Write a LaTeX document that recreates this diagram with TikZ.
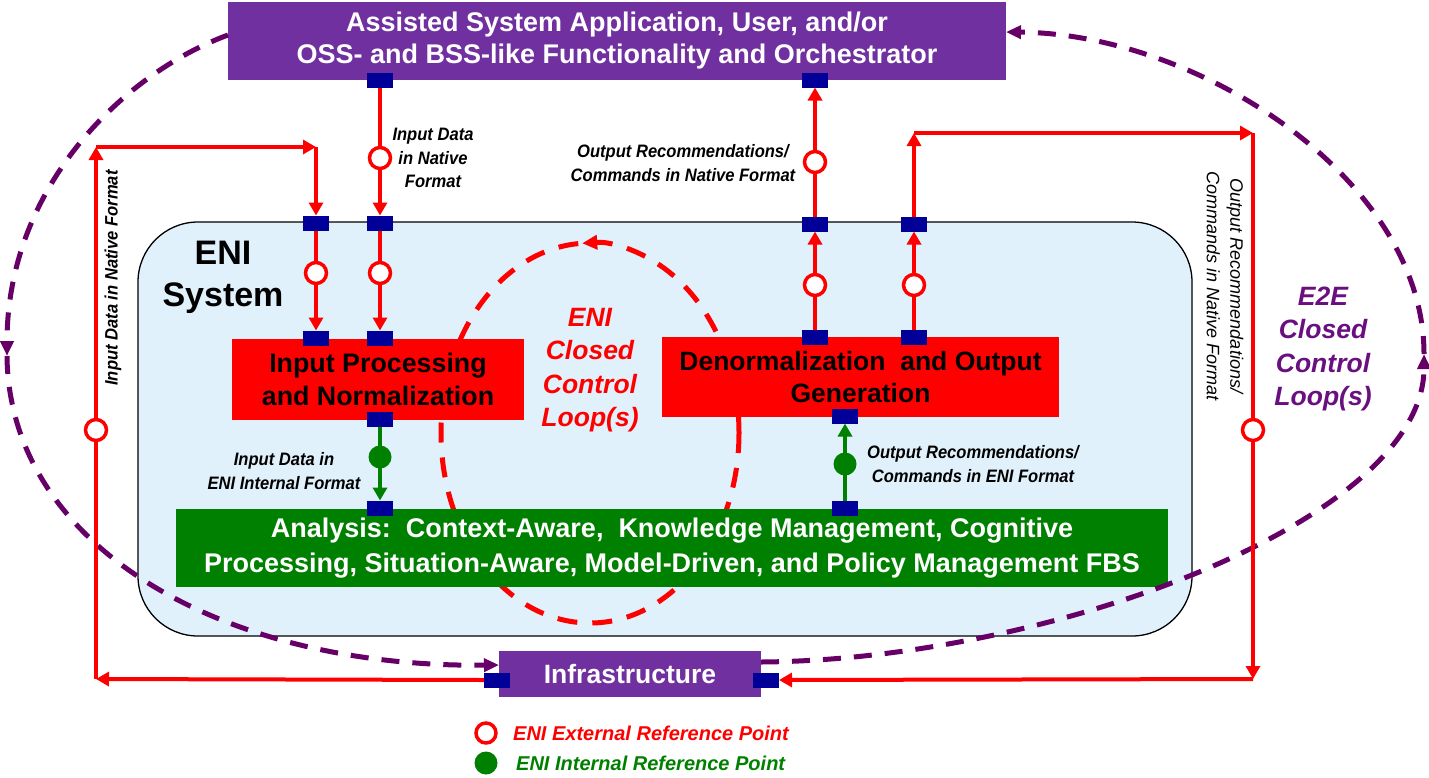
\documentclass[tikz,border=0pt]{standalone}
\usepackage{fontspec}
\setmainfont{Liberation Sans}
\newfontfamily\lblfont[FakeStretch=0.92]{Liberation Sans}
\usetikzlibrary{arrows.meta}
\definecolor{eniPurple}{HTML}{7030A0}
\definecolor{loopPurple}{HTML}{660066}
\definecolor{e2eText}{HTML}{6A0F80}
\definecolor{portBlue}{HTML}{000099}
\definecolor{eniRed}{HTML}{FF0000}
\definecolor{eniGreen}{HTML}{008000}
\definecolor{eniBlue}{HTML}{E1F1FB}
\tikzset{
  port/.style={fill=portBlue, minimum width=26pt, minimum height=15pt, inner sep=0pt, outer sep=0pt},
  extpt/.style={circle, draw=eniRed, line width=3.5pt, fill=white, minimum size=21pt, inner sep=0pt},
  intpt/.style={circle, fill=eniGreen, minimum size=23pt, inner sep=0pt},
  redflow/.style={draw=eniRed, line width=4pt, -{Triangle[length=13pt,width=14pt]}},
  greenflow/.style={draw=eniGreen, line width=4pt, -{Triangle[length=13pt,width=14pt]}},
  e2edash/.style={draw=loopPurple, line width=5pt, dash pattern=on 18pt off 13pt, -{Triangle[length=15pt,width=13pt]}},
  enidash/.style={draw=eniRed, line width=5pt, dash pattern=on 20pt off 15pt},
  bigbox/.style={inner sep=0pt, outer sep=0pt, align=center},
  lbl/.style={font=\lblfont\fontsize{18}{23.5}\selectfont\bfseries\itshape, align=center, inner sep=0pt},
}
\begin{document}
\begin{tikzpicture}[x=1pt,y=-1pt]
\useasboundingbox (0,0) rectangle (1429,777);

% ENI system container
\node[draw=black, line width=1.3pt, fill=eniBlue, rounded corners=60pt, minimum width=1054pt, minimum height=414pt, inner sep=0pt] (eni) at (665,429) {};

% ENI closed control loop (dashed ellipse)
\draw[enidash, -{Triangle[length=15pt,width=14pt]}] (739,433) arc[start angle=0, end angle=93, x radius=149pt, y radius=190pt];
\draw[enidash] (739,433) arc[start angle=0, end angle=-267, x radius=149pt, y radius=190pt];

% boxes
\node[bigbox, fill=eniPurple, text=white, minimum width=778pt, minimum height=78pt, font=\fontsize{27}{32}\selectfont\bfseries] (top) at (617,41) {Assisted System Application, User, and/or\\OSS- and BSS-like Functionality and Orchestrator};
\node[bigbox, fill=eniRed, text=black, minimum width=292pt, minimum height=81pt, font=\fontsize{26.8}{33}\selectfont\bfseries] (inproc) at (378,379.5) {Input Processing\\and Normalization};
\node[bigbox, fill=eniRed, text=black, minimum width=397pt, minimum height=80pt, font=\fontsize{26.5}{32}\selectfont\bfseries] (denorm) at (860.5,377) {Denormalization\ \ and Output\\Generation};
\node[bigbox, fill=eniGreen, text=white, minimum width=992pt, minimum height=78pt, font=\fontsize{27}{35}\selectfont\bfseries] (analysis) at (672,548) {Analysis:\ \ Context-Aware,\ \ Knowledge Management, Cognitive\\Processing, Situation-Aware, Model-Driven, and Policy Management FBS};
\node[bigbox, fill=eniPurple, text=white, minimum width=262pt, minimum height=46pt, font=\fontsize{26.5}{30}\selectfont\bfseries] (infra) at (630,674) {Infrastructure};

% E2E closed control loop (dashed purple arcs)
\coordinate (e2eL) at (7,356);
\coordinate (e2eR) at (1424,354);
\draw[e2edash] ([yshift=6pt]top.west) .. controls (120,75) and (7,190) .. (e2eL);
\draw[e2edash] (e2eL) .. controls (9,545) and (220,668) .. ([yshift=9pt]infra.west);
\draw[e2edash] ([yshift=12pt]infra.east) .. controls (1050,660) and (1424,520) .. (e2eR);
\draw[e2edash] (e2eR) .. controls (1424,180) and (1200,34) .. ([yshift=9pt]top.east);

% ports
\node[port] (pTopL) at (380,80) {};
\node[port] (pTopR) at (815,80) {};
\node[port] (pB1) at (316,223) {};
\node[port] (pB2) at (380,223) {};
\node[port] (pB3) at (815,224) {};
\node[port] (pB4) at (914,224) {};
\node[port] (pI1) at (316,338) {};
\node[port] (pI2) at (380,338) {};
\node[port] (pI3) at (380,419) {};
\node[port] (pD1) at (815,337) {};
\node[port] (pD2) at (914,337) {};
\node[port] (pD3) at (845,416) {};
\node[port] (pG1) at (380,508) {};
\node[port] (pG2) at (845,508) {};
\node[port] (pInL) at (497,680) {};
\node[port] (pInR) at (766,680) {};

% corner coordinates of outer loops
\coordinate (cBL) at (96,679);
\coordinate (cTL) at (96,147);
\coordinate (cTM) at (316,147);
\coordinate (cTR1) at (914,133);
\coordinate (cTR2) at (1253,133);
\coordinate (cBR) at (1253,679);

% red flows
\draw[redflow] (pTopL.south) -- (pB2.north);
\draw[redflow] (pB2.south) -- (pI2.north);
\draw[redflow] (pB1.south) -- (pI1.north);
\draw[redflow] (pB3.north) -- (pTopR.south);
\draw[redflow] (pD1.north) -- (pB3.south);
\draw[redflow] (pD2.north) -- (pB4.south);
\draw[redflow] (pB4.north) -- (cTR1);
\draw[redflow] (cTR1) -- (cTR2);
\draw[redflow] (cTR2) -- (cBR);
\draw[redflow] (cBR) -- (pInR.east);
\draw[redflow] (pInL.west) -- (cBL);
\draw[redflow] (cBL) -- (cTL);
\draw[redflow] (cTL) -- (cTM);
\draw[redflow] (cTM) -- (pB1.north);

% green flows
\draw[greenflow] (pI3.south) -- (pG1.north);
\draw[greenflow] (pG2.north) -- (pD3.south);

% reference points
\node[extpt] (r1) at (380,158) {};
\node[extpt] (r2) at (316,273) {};
\node[extpt] (r3) at (380,273) {};
\node[extpt] (r4) at (815,162) {};
\node[extpt] (r5) at (815,285) {};
\node[extpt] (r6) at (914,285) {};
\node[extpt] (r7) at (96,430) {};
\node[extpt] (r8) at (1253,430) {};
\node[intpt] (g1) at (380,457) {};
\node[intpt] (g2) at (845,464) {};

% texts
\node[font=\fontsize{34}{42}\selectfont\bfseries, align=center, inner sep=0pt] (enititle) at (223,277) {ENI\\System};
\node[font=\fontsize{26.5}{33.3}\selectfont\bfseries\itshape, text=eniRed, align=center, inner sep=0pt] (enilooptxt) at (590,370) {ENI\\Closed\\Control\\Loop(s)};
\node[font=\fontsize{26.5}{33.3}\selectfont\bfseries\itshape, text=e2eText, align=center, inner sep=0pt] (e2elooptxt) at (1323,349) {E2E\\Closed\\Control\\Loop(s)};

\node[lbl] (l1) at (433,158) {Input Data\\in Native\\Format};
\node[lbl] (l2) at (683,163) {Output Recommendations/\\Commands in Native Format};
\node[lbl] (l3) at (284,471) {Input Data in\\ENI Internal Format};
\node[lbl] (l4) at (973,464) {Output Recommendations/\\Commands in ENI Format};
\node[lbl, rotate=90] (l5) at (113,278) {Input Data in Native Format};
\node[font=\fontsize{18}{23.5}\selectfont\itshape, align=center, inner sep=0pt, rotate=-90] (l6) at (1225,286) {Output Recommendations/\\Commands in Native Format};

% legend
\node[extpt, minimum size=20pt] (legExt) at (486,733) {};
\node[intpt] (legInt) at (486,763) {};
\node[font=\fontsize{20}{24}\selectfont\bfseries\itshape, text=eniRed, anchor=west, inner sep=0pt] (legExtTxt) at (513,733) {ENI External Reference Point};
\node[font=\fontsize{20}{24}\selectfont\bfseries\itshape, text=eniGreen, anchor=west, inner sep=0pt] (legIntTxt) at (516,763) {ENI Internal Reference Point};
\end{tikzpicture}
\end{document}
